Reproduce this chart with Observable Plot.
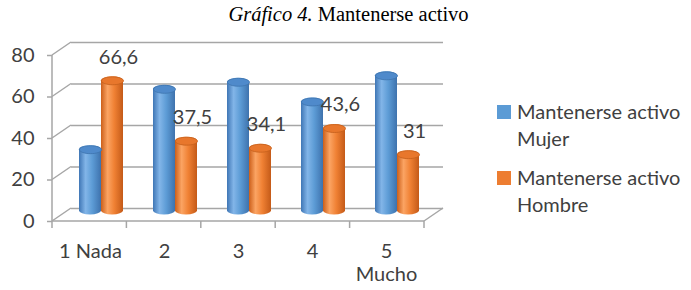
<!DOCTYPE html>
<html>
<head>
<meta charset="utf-8">
<script src="https://cdn.jsdelivr.net/npm/d3@7"></script>
<script src="https://cdn.jsdelivr.net/npm/@observablehq/plot@0.6"></script>
<style>
  html, body { margin: 0; padding: 0; background: #fff; }
  #wrap { position: relative; width: 691px; height: 290px; overflow: hidden; }
  #title { height: 30px; line-height: 28px; text-align: center; font-family: "Liberation Serif", serif; font-size: 20.5px; color: #000; padding-left: 6px; box-sizing: border-box; }
  #legend { position: absolute; left: 497px; top: 98px; font-family: Lato, sans-serif; font-size: 20px; color: #404040; line-height: 27px; }
  .item { position: relative; padding-left: 20px; margin-bottom: 12px; }
  .sw { position: absolute; left: 0; top: 7px; width: 14px; height: 14px; }
</style>
</head>
<body>
<div id="wrap">
  <div id="title"><i>Gráfico 4.</i> Mantenerse activo</div>
  <div id="chart"></div>
  <div id="legend"></div>
</div>
<script>
const categories = ["1 Nada", "2", "3", "4", "5\nMucho"];
const mujer = [33.4, 62.5, 65.9, 56.4, 69];
const hombre = [66.6, 37.5, 34.1, 43.6, 31];
const hombreLabels = ["66,6", "37,5", "34,1", "43,6", "31"];
const yTicks = [0, 20, 40, 60, 80];
const seriesNames = ["Mantenerse activo Mujer", "Mantenerse activo Hombre"];
const seriesColors = ["#5b9bd5", "#ed7d31"];

const mujerData = categories.map((c, i) => ({cat: c, value: mujer[i]}));
const hombreData = categories.map((c, i) => ({cat: c, value: hombre[i], label: hombreLabels[i]}));

const DX = 19, DY = -13;      // back wall offset
const BDX = 11, BDY = -6.5;   // bar depth offset
const HALF = 22;

const ellipse = {
  draw(context, size) {
    const rx = Math.sqrt(size / Math.PI), ry = rx * 0.36, k = 0.5523;
    context.moveTo(rx, 0);
    context.bezierCurveTo(rx, ry * k, rx * k, ry, 0, ry);
    context.bezierCurveTo(-rx * k, ry, -rx, ry * k, -rx, 0);
    context.bezierCurveTo(-rx, -ry * k, -rx * k, -ry, 0, -ry);
    context.bezierCurveTo(rx * k, -ry, rx, -ry * k, rx, 0);
    context.closePath();
  }
};

function frame3D(index, scales, values, dims) {
  const y = scales.y;
  const g = d3.create("svg:g").attr("stroke", "#a6a6a6").attr("stroke-width", 1.5).attr("fill", "none");
  const x0 = dims.marginLeft, x1 = dims.width - dims.marginRight;
  for (const v of yTicks) {
    g.append("line").attr("x1", x0).attr("y1", y(v)).attr("x2", x0 + DX).attr("y2", y(v) + DY);
  }
  g.append("line").attr("x1", x0).attr("y1", y(0)).attr("x2", x0).attr("y2", y(yTicks[yTicks.length - 1]));
  g.append("line").attr("x1", x0).attr("y1", y(0)).attr("x2", x1).attr("y2", y(0));
  g.append("line").attr("x1", x1).attr("y1", y(0)).attr("x2", x1 + DX).attr("y2", y(0) + DY);
  const n = categories.length, step = (x1 - x0) / n;
  for (let i = 0; i <= n; i++) {
    const xx = x0 + step * i;
    g.append("line").attr("x1", xx).attr("y1", y(0)).attr("x2", xx).attr("y2", y(0) + 7);
  }
  return g.node();
}

const chart = Plot.plot({
  width: 691,
  height: 260,
  marginLeft: 52,
  marginRight: 267,
  marginTop: 25,
  marginBottom: 69,
  style: {fontFamily: "Lato, sans-serif", fontSize: "20px", color: "#404040", background: "transparent"},
  x: {domain: categories, paddingInner: 0.41, paddingOuter: 0.205, label: null},
  y: {domain: [0, 80], label: null},
  marks: [
    Plot.ruleY(yTicks, {dx: DX, dy: DY, stroke: "#a6a6a6", strokeWidth: 1.5}),
    frame3D,
    Plot.axisY({ticks: yTicks, tickSize: 5, tickPadding: 13, fontSize: 20, stroke: "#a6a6a6", strokeWidth: 1.5, fill: "#404040", label: null}),
    Plot.axisX({tickSize: 0, tickPadding: 20, fontSize: 20, fill: "#404040", lineHeight: 1.15, label: null}),
    Plot.barY(mujerData, {x: "cat", y: "value", insetRight: HALF, dx: BDX, dy: BDY, rx: 11, ry: 4, fill: "url(#gBlue)"}),
    Plot.barY(hombreData, {x: "cat", y: "value", insetLeft: HALF, dx: BDX, dy: BDY, rx: 11, ry: 4, fill: "url(#gOrange)"}),
    Plot.dot(mujerData, {x: "cat", y: "value", dx: 0, dy: BDY + 4, r: 11, symbol: ellipse, fill: "#4f8acb", stroke: "#3d73ad", strokeWidth: 0.8}),
    Plot.dot(hombreData, {x: "cat", y: "value", dx: 22, dy: BDY + 4, r: 11, symbol: ellipse, fill: "#e8772c", stroke: "#c45f1c", strokeWidth: 0.8}),
    Plot.text(hombreData, {x: "cat", y: "value", text: "label", dx: 28, dy: -26, fontSize: 20, fill: "#404040"})
  ]
});

d3.select(chart).insert("defs", ":first-child").html(`
  <linearGradient id="gBlue" x1="0" x2="1" y1="0" y2="0">
    <stop offset="0" stop-color="#3f76b5"/>
    <stop offset="0.3" stop-color="#82b5e8"/>
    <stop offset="0.6" stop-color="#5d9cd6"/>
    <stop offset="1" stop-color="#3e72ad"/>
  </linearGradient>
  <linearGradient id="gOrange" x1="0" x2="1" y1="0" y2="0">
    <stop offset="0" stop-color="#cc5f1a"/>
    <stop offset="0.3" stop-color="#fba463"/>
    <stop offset="0.6" stop-color="#f08134"/>
    <stop offset="1" stop-color="#c45a18"/>
  </linearGradient>`);

document.getElementById("chart").appendChild(chart);

const legend = d3.select("#legend");
seriesNames.forEach((name, i) => {
  const k = name.lastIndexOf(" ");
  const item = legend.append("div").attr("class", "item");
  item.append("span").attr("class", "sw").style("background", seriesColors[i]);
  item.append("span").html(name.slice(0, k) + "<br>" + name.slice(k + 1));
});
</script>
</body>
</html>
